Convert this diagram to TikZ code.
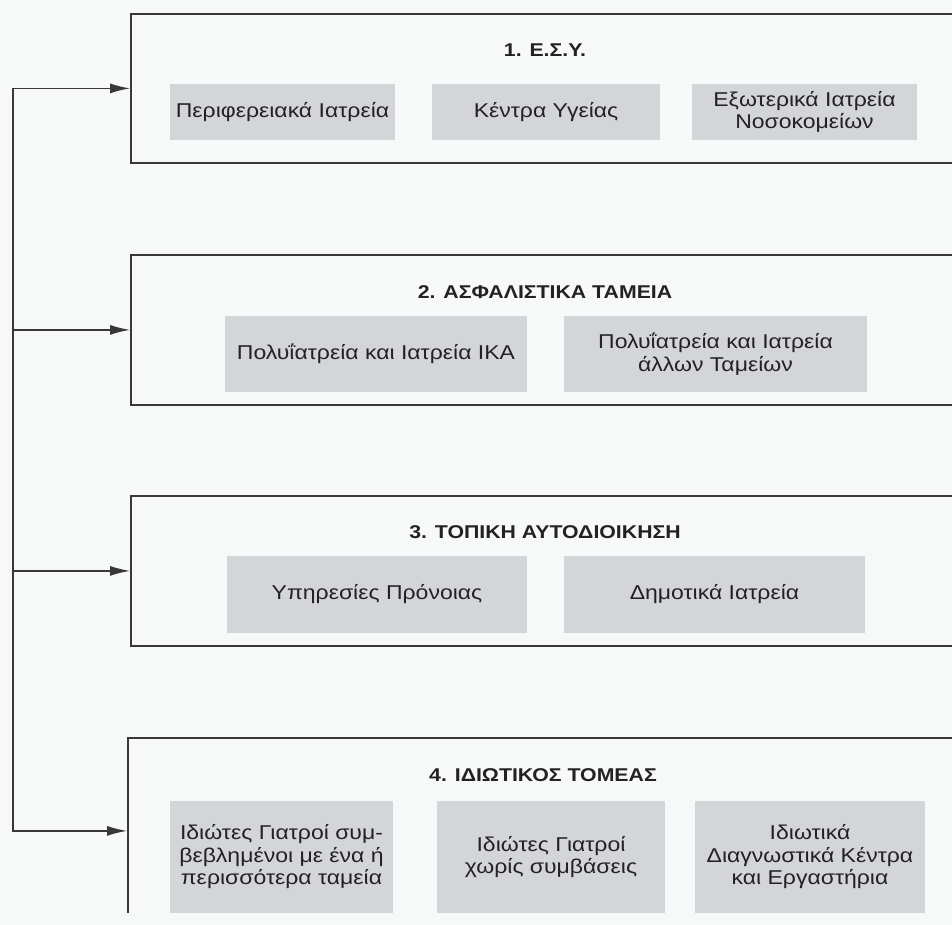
\documentclass[tikz,border=0pt]{standalone}
\usepackage{fontspec}
\setmainfont{Liberation Sans}[FakeStretch=1.15]
\usepackage{tikz}
\usetikzlibrary{positioning, arrows.meta}
\definecolor{framegray}{HTML}{383838}
\definecolor{cellgray}{HTML}{D3D5D9}
\definecolor{paper}{HTML}{F7F8F8}
\definecolor{inkgray}{HTML}{222222}

\begin{document}
\begin{tikzpicture}[x=1pt, y=-1pt,
        sector/.style={draw=framegray, line width=1.8pt, anchor=north west, minimum width=840pt, inner sep=0pt},
        cell/.style={fill=cellgray, text=inkgray, align=center, inner sep=0pt, font=\fontsize{20}{22.5}\selectfont},
        heading/.style={text=inkgray, inner sep=0pt, font=\fontsize{18.5}{22}\selectfont\bfseries},
        feed/.style={draw=framegray, line width=1.4pt, -{Latex[length=20pt, width=10pt]}}]
    \useasboundingbox (0,0) rectangle (952,925);
    \fill[paper] (0,0) rectangle (952,925);
    \begin{scope}
        \clip (0,0) rectangle (952,912);

        \node[sector, minimum height=149pt] (esy) at (130,13) {};
        \node[sector, minimum height=150pt] (funds) at (130,254) {};
        \node[sector, minimum height=150pt] (local) at (130,495) {};
        \node[sector, minimum height=186pt] (priv) at (127,737) {};

        \node[heading] (esyT) at (545,50) {1. Ε.Σ.Υ.};
        \node[heading] (fundsT) at (545,292) {2. ΑΣΦΑΛΙΣΤΙΚΑ ΤΑΜΕΙΑ};
        \node[heading] (localT) at (545,532) {3. ΤΟΠΙΚΗ ΑΥΤΟΔΙΟΙΚΗΣΗ};
        \node[heading] (privT) at (543,775) {4. ΙΔΙΩΤΙΚΟΣ ΤΟΜΕΑΣ};

        \node[cell, minimum width=225pt, minimum height=56pt] (esyA) at (282.5,112) {Περιφερειακά Ιατρεία};
        \node[cell, minimum width=228pt, minimum height=56pt] (esyB) at (546,112) {Κέντρα Υγείας};
        \node[cell, minimum width=225pt, minimum height=56pt] (esyC) at (804.5,112) {Εξωτερικά Ιατρεία\\Νοσοκομείων};

        \node[cell, minimum width=302pt, minimum height=76pt] (fundsA) at (376,354) {Πολυΐατρεία και Ιατρεία ΙΚΑ};
        \node[cell, minimum width=303pt, minimum height=76pt] (fundsB) at (715.5,354) {Πολυΐατρεία και Ιατρεία\\άλλων Ταμείων};

        \node[cell, minimum width=300pt, minimum height=77pt] (localA) at (377,594.5) {Υπηρεσίες Πρόνοιας};
        \node[cell, minimum width=301pt, minimum height=77pt] (localB) at (714.5,594.5) {Δημοτικά Ιατρεία};

        \node[cell, minimum width=223pt, minimum height=112pt] (privA) at (281.5,857) {Ιδιώτες Γιατροί συμ-\\βεβλημένοι με ένα ή\\περισσότερα ταμεία};
        \node[cell, minimum width=228pt, minimum height=112pt] (privB) at (551,857) {Ιδιώτες Γιατροί\\χωρίς συμβάσεις};
        \node[cell, minimum width=230pt, minimum height=112pt] (privC) at (810,857) {Ιδιωτικά\\Διαγνωστικά Κέντρα\\και Εργαστήρια};

        \coordinate (trunk) at (13,0);
        \draw[framegray, line width=1.4pt, line cap=rect] (esy.west -| trunk) -- (priv.west -| trunk);
        \foreach \s in {esy, funds, local, priv}
            \draw[feed] (\s.west -| trunk) -- (\s.west);
    \end{scope}
\end{tikzpicture}
\end{document}
